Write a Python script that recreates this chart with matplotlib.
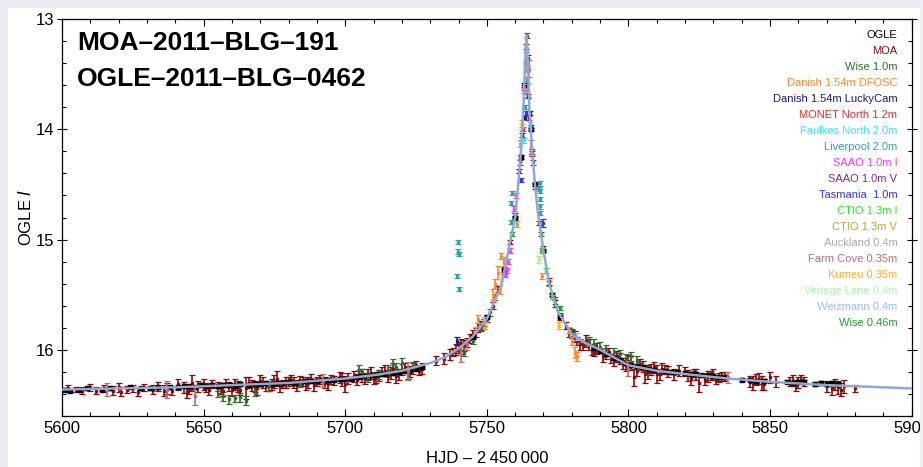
import matplotlib
matplotlib.use("Agg")
import matplotlib.pyplot as plt
from matplotlib.patches import Rectangle
from matplotlib.ticker import MultipleLocator

plt.rcParams["font.family"] = ["Liberation Sans", "DejaVu Sans"]

# model light curve (HJD-2450000, OGLE I)
model_t = [5600, 5620, 5640, 5660, 5680, 5700, 5710, 5720, 5730, 5735, 5740, 5745,
           5750, 5753, 5755, 5758, 5760, 5761, 5762, 5763, 5763.6, 5764.0, 5764.4,
           5765, 5766, 5767, 5768, 5770, 5772, 5775, 5780, 5785, 5790, 5800, 5810,
           5820, 5835, 5850, 5870, 5900]
model_m = [16.36, 16.35, 16.34, 16.32, 16.30, 16.26, 16.23, 16.19, 16.12, 16.07, 15.99, 15.88,
           15.72, 15.54, 15.43, 15.05, 14.80, 14.52, 14.22, 13.75, 13.32, 13.15, 13.30,
           13.80, 14.20, 14.50, 14.75, 15.10, 15.40, 15.65, 15.86, 15.94, 16.00, 16.14, 16.19,
           16.22, 16.26, 16.29, 16.32, 16.35]

ogle_t = [5601, 5603, 5606, 5609, 5614, 5617, 5624, 5628, 5631, 5634, 5638, 5641, 5643,
          5645, 5647, 5649, 5651, 5653, 5655, 5657, 5659, 5661, 5663, 5666, 5668, 5670,
          5672, 5674, 5676, 5678, 5680, 5682, 5684, 5686, 5688, 5690, 5692, 5694, 5696,
          5698, 5699.5, 5702, 5704, 5706, 5708, 5710, 5712, 5714, 5717, 5719, 5721, 5723,
          5725, 5727, 5745, 5750, 5756, 5760, 5762, 5763.3, 5765.5, 5767, 5770, 5773, 5776,
          5788, 5790, 5792, 5795, 5797, 5799, 5801, 5803, 5805, 5807, 5809, 5813, 5815,
          5817, 5820, 5822, 5824, 5826, 5828, 5830, 5832, 5834, 5840, 5843, 5845, 5848,
          5856, 5858, 5860, 5862, 5866, 5868, 5870, 5872, 5874]
ogle_m = [16.36, 16.37, 16.36, 16.35, 16.36, 16.35, 16.34, 16.35, 16.35, 16.34, 16.34, 16.34, 16.33,
          16.33, 16.34, 16.32, 16.33, 16.32, 16.33, 16.32, 16.32, 16.33, 16.31, 16.32, 16.31, 16.31,
          16.30, 16.31, 16.30, 16.30, 16.29, 16.30, 16.29, 16.28, 16.28, 16.28, 16.27, 16.27, 16.27,
          16.26, 16.26, 16.26, 16.25, 16.24, 16.24, 16.23, 16.22, 16.22, 16.21, 16.20, 16.19, 16.18,
          16.17, 16.16, 15.88, 15.70, 15.28, 14.80, 14.25, 13.60, 14.00, 14.50, 15.10, 15.50, 15.70,
          15.98, 16.01, 16.04, 16.07, 16.09, 16.12, 16.14, 16.15, 16.16, 16.17, 16.18, 16.19, 16.20,
          16.20, 16.21, 16.22, 16.22, 16.23, 16.23, 16.24, 16.25, 16.25, 16.27, 16.27, 16.28, 16.28,
          16.29, 16.30, 16.29, 16.29, 16.31, 16.30, 16.31, 16.30, 16.31]
ogle_e = [0.015] * len(ogle_t)

moa_t = [5602, 5605, 5610, 5612, 5620, 5621, 5625, 5629, 5632, 5637, 5639, 5641, 5644, 5646,
         5648, 5651, 5653, 5656, 5658, 5660, 5662, 5665, 5666, 5668, 5670, 5672, 5674, 5676,
         5678, 5680, 5682, 5684, 5686, 5688, 5690, 5693, 5695, 5698, 5700, 5703, 5705, 5707,
         5709, 5711, 5713, 5715, 5717, 5719, 5721, 5723, 5725, 5727, 5732, 5735, 5738, 5740,
         5742, 5744, 5746, 5748, 5750, 5752, 5754, 5756, 5758, 5760, 5761.5, 5762.5, 5763.2,
         5763.8, 5764.5, 5765.2, 5766, 5767, 5768.5, 5770, 5772, 5774, 5776, 5778, 5780, 5782,
         5784, 5786, 5788, 5792, 5794, 5796, 5798, 5800, 5802, 5804, 5806, 5808, 5810, 5812,
         5814, 5818, 5821, 5823, 5825, 5828, 5830, 5832, 5834, 5843, 5845, 5847, 5850, 5852,
         5858, 5860, 5862, 5870, 5872, 5874, 5876, 5880,
         5607, 5615, 5618, 5623, 5627, 5634, 5636, 5643, 5645, 5650, 5652, 5655, 5657, 5659,
         5661, 5663, 5667, 5669, 5671, 5673, 5675, 5677, 5679, 5681, 5683, 5685, 5687, 5689,
         5691, 5694, 5696, 5699, 5701, 5704, 5706, 5708, 5710, 5712, 5714, 5716, 5718, 5720,
         5722, 5724, 5726, 5737, 5739, 5741, 5743, 5745, 5747, 5749, 5779, 5781, 5783, 5785,
         5787, 5789, 5791, 5793, 5795, 5797, 5799, 5801, 5803, 5805, 5807, 5809, 5811, 5813,
         5816, 5820, 5822, 5824, 5827, 5829, 5831, 5833, 5844, 5846, 5848, 5857, 5859, 5861,
         5873, 5875]
moa_m = [16.35, 16.36, 16.34, 16.37, 16.34, 16.38, 16.35, 16.34, 16.36, 16.35, 16.37, 16.31, 16.38, 16.30,
         16.33, 16.34, 16.31, 16.35, 16.30, 16.36, 16.33, 16.35, 16.30, 16.33, 16.28, 16.33, 16.31, 16.26,
         16.31, 16.29, 16.30, 16.28, 16.31, 16.26, 16.29, 16.30, 16.27, 16.25, 16.31, 16.24, 16.22, 16.26,
         16.21, 16.25, 16.20, 16.24, 16.17, 16.22, 16.16, 16.20, 16.14, 16.17, 16.10, 16.08, 16.02, 15.98,
         15.96, 15.90, 15.84, 15.78, 15.72, 15.60, 15.45, 15.28, 15.02, 14.78, 14.38, 14.05, 13.60,
         13.25, 13.35, 13.85, 14.22, 14.52, 14.85, 15.08, 15.38, 15.58, 15.70, 15.78, 15.85, 15.92,
         15.96, 15.95, 16.02, 16.03, 16.08, 16.06, 16.12, 16.10, 16.25, 16.13, 16.22, 16.18, 16.22, 16.17,
         16.20, 16.19, 16.23, 16.21, 16.30, 16.24, 16.22, 16.25, 16.24, 16.29, 16.27, 16.30, 16.25, 16.29,
         16.28, 16.30, 16.29, 16.33, 16.35, 16.34, 16.33, 16.35,
         16.37, 16.35, 16.37, 16.36, 16.38, 16.33, 16.37, 16.34, 16.36, 16.31, 16.36, 16.33, 16.37, 16.33,
         16.31, 16.36, 16.32, 16.35, 16.30, 16.33, 16.29, 16.33, 16.30, 16.27, 16.32, 16.29, 16.30, 16.32,
         16.27, 16.31, 16.28, 16.27, 16.26, 16.27, 16.23, 16.22, 16.26, 16.23, 16.19, 16.21, 16.24, 16.18,
         16.21, 16.17, 16.19, 16.04, 16.00, 15.95, 15.93, 15.86, 15.80, 15.75, 15.84, 15.88, 15.95, 15.92,
         16.00, 15.99, 16.06, 16.02, 16.10, 16.08, 16.14, 16.12, 16.19, 16.15, 16.20, 16.16, 16.22, 16.18,
         16.22, 16.20, 16.26, 16.22, 16.27, 16.23, 16.27, 16.24, 16.30, 16.26, 16.31, 16.29, 16.32, 16.27,
         16.31, 16.36]
moa_e = [0.03, 0.02, 0.03, 0.03, 0.04, 0.04, 0.03, 0.03, 0.04, 0.05, 0.04, 0.05, 0.06, 0.07,
         0.05, 0.04, 0.04, 0.05, 0.04, 0.06, 0.05, 0.10, 0.05, 0.05, 0.05, 0.04, 0.05, 0.07,
         0.04, 0.04, 0.05, 0.04, 0.05, 0.04, 0.04, 0.05, 0.04, 0.05, 0.07, 0.05, 0.04, 0.05,
         0.05, 0.05, 0.04, 0.05, 0.05, 0.05, 0.04, 0.05, 0.04, 0.05, 0.04, 0.05, 0.04, 0.05,
         0.05, 0.04, 0.04, 0.04, 0.03, 0.03, 0.03, 0.03, 0.02, 0.02, 0.02, 0.02, 0.02,
         0.02, 0.02, 0.02, 0.02, 0.02, 0.02, 0.02, 0.03, 0.03, 0.03, 0.03, 0.04, 0.04,
         0.04, 0.05, 0.04, 0.05, 0.04, 0.05, 0.05, 0.05, 0.08, 0.05, 0.08, 0.05, 0.08, 0.05,
         0.05, 0.05, 0.05, 0.04, 0.08, 0.05, 0.05, 0.04, 0.04, 0.05, 0.05, 0.06, 0.05, 0.05,
         0.05, 0.05, 0.04, 0.05, 0.06, 0.06, 0.06, 0.03,
         0.03, 0.03, 0.04, 0.03, 0.04, 0.04, 0.05, 0.05, 0.04, 0.05, 0.05, 0.04, 0.05, 0.04,
         0.05, 0.05, 0.05, 0.06, 0.05, 0.04, 0.06, 0.05, 0.05, 0.04, 0.05, 0.04, 0.05, 0.05,
         0.04, 0.05, 0.04, 0.06, 0.05, 0.05, 0.06, 0.05, 0.05, 0.05, 0.05, 0.05, 0.06, 0.05,
         0.05, 0.05, 0.04, 0.05, 0.05, 0.05, 0.04, 0.04, 0.04, 0.03, 0.04, 0.05, 0.05, 0.05,
         0.05, 0.05, 0.05, 0.04, 0.05, 0.05, 0.05, 0.06, 0.05, 0.05, 0.06, 0.05, 0.05, 0.04,
         0.05, 0.04, 0.06, 0.05, 0.05, 0.04, 0.04, 0.04, 0.06, 0.05, 0.05, 0.04, 0.05, 0.04,
         0.05, 0.06]

wise1_t = [5655, 5657, 5659, 5661, 5663, 5665, 5668, 5673, 5684, 5705, 5706, 5708, 5712, 5715,
           5717, 5718, 5720, 5722, 5724, 5742, 5745, 5748, 5751, 5753, 5756, 5760, 5763, 5764,
           5766, 5769, 5774, 5780, 5786, 5788, 5790, 5792, 5795, 5797, 5799, 5801, 5803]
wise1_m = [16.40, 16.42, 16.45, 16.44, 16.43, 16.46, 16.38, 16.33, 16.31, 16.18, 16.20, 16.25, 16.22, 16.18,
           16.13, 16.16, 16.12, 16.22, 16.15, 16.03, 15.92, 15.80, 15.66, 15.52, 15.30, 14.78, 13.62, 13.15,
           14.20, 14.95, 15.55, 15.85, 15.92, 15.95, 15.97, 15.99, 16.02, 16.04, 16.08, 16.06, 16.10]
wise1_e = [0.03, 0.04, 0.04, 0.03, 0.04, 0.04, 0.04, 0.04, 0.03, 0.04, 0.03, 0.04, 0.04, 0.04,
           0.05, 0.04, 0.05, 0.04, 0.04, 0.03, 0.03, 0.03, 0.03, 0.03, 0.03, 0.02, 0.02, 0.02,
           0.02, 0.02, 0.03, 0.03, 0.04, 0.05, 0.04, 0.03, 0.04, 0.04, 0.04, 0.04, 0.04]

dfosc_t = [5746, 5747, 5749.5, 5752, 5753, 5754, 5754.5, 5755, 5756, 5768.5, 5769.5, 5779, 5780, 5781, 5782]
dfosc_m = [15.82, 15.72, 15.78, 15.50, 15.40, 15.30, 15.45, 15.15, 15.20, 15.18, 15.33, 15.82, 15.92, 16.02, 16.06]
dfosc_e = [0.03, 0.04, 0.03, 0.05, 0.04, 0.06, 0.04, 0.03, 0.04, 0.03, 0.03, 0.03, 0.04, 0.05, 0.04]

lucky_t = [5739.5, 5763.5, 5764.5]
lucky_m = [15.92, 13.90, 13.70]
lucky_e = [0.04, 0.02, 0.02]

monet_t = [5762.8, 5763.9, 5764.3]
monet_m = [14.00, 13.40, 13.45]
monet_e = [0.02, 0.02, 0.02]

faulkes_t = [5763.0, 5765.4]
faulkes_m = [14.10, 13.95]
faulkes_e = [0.02, 0.02]

liver_t = [5739.7, 5739.9, 5740.2, 5739.6, 5740.0, 5758.8, 5758.5, 5758.7, 5768.7, 5768.3,
           5768.8, 5768.6, 5768.7, 5768.6, 5763.5, 5764.3]
liver_m = [15.02, 15.11, 15.13, 15.33, 15.45, 14.58, 14.67, 14.84, 14.49, 14.54,
           14.56, 14.63, 14.70, 14.76, 13.80, 13.55]
liver_e = [0.02] * len(liver_t)

saaoi_t = [5756.5, 5757, 5757.5, 5758, 5759.5, 5760.2, 5763.2]
saaoi_m = [15.32, 15.28, 15.20, 15.10, 14.72, 14.60, 13.65]
saaoi_e = [0.02, 0.02, 0.02, 0.02, 0.02, 0.02, 0.02]

saaov_t = [5761.7, 5765.0, 5766.2]
saaov_m = [14.30, 13.90, 14.30]
saaov_e = [0.02, 0.02, 0.02]

tasm_t = [5762.0, 5763.8, 5765.6, 5769.8]
tasm_m = [14.46, 13.85, 13.98, 14.85]
tasm_e = [0.02, 0.02, 0.02, 0.04]

ctioi_t = [5769.3, 5771.0, 5773.0]
ctioi_m = [15.10, 15.28, 15.52]
ctioi_e = [0.02, 0.02, 0.02]

ctiov_t = [5760.5, 5762.5]
ctiov_m = [14.86, 13.95]
ctiov_e = [0.03, 0.03]

auck_t = [5761.6, 5764.2]
auck_m = [14.13, 13.45]
auck_e = [0.03, 0.03]

farm_t = [5616, 5637, 5647, 5692, 5722, 5741, 5743, 5763.8, 5764.6, 5764.8, 5765.6, 5800, 5835]
farm_m = [16.36, 16.36, 16.42, 16.28, 16.19, 16.04, 15.95, 13.35, 13.65, 13.45, 14.16, 16.17, 16.25]
farm_e = [0.06, 0.08, 0.08, 0.06, 0.08, 0.07, 0.05, 0.05, 0.06, 0.08, 0.06, 0.07, 0.05]

kumeu_t = [5762.3, 5775.5]
kumeu_m = [13.98, 15.78]
kumeu_e = [0.03, 0.03]

vintage_t = [5755.0, 5768.4]
vintage_m = [15.35, 15.18]
vintage_e = [0.03, 0.03]

weiz_t = [5749.0, 5782.0]
weiz_m = [15.73, 15.88]
weiz_e = [0.03, 0.03]

wise46_t = [5759.0, 5772.0, 5776.0]
wise46_m = [14.95, 15.40, 15.62]
wise46_e = [0.02, 0.02, 0.02]

labels = ["OGLE", "MOA", "Wise 1.0m", "Danish 1.54m DFOSC", "Danish 1.54m LuckyCam",
          "MONET North 1.2m", "Faulkes North 2.0m", "Liverpool 2.0m", "SAAO 1.0m I",
          "SAAO 1.0m V", "Tasmania  1.0m", "CTIO 1.3m I", "CTIO 1.3m V", "Auckland 0.4m",
          "Farm Cove 0.35m", "Kumeu 0.35m", "Vintage Lane 0.4m", "Weizmann 0.4m", "Wise 0.46m"]
colors = ["#000000", "#8b0a0a", "#2f6f2f", "#ff8a2a", "#1a1a80", "#e03030", "#33e6ff",
          "#2aa6a6", "#ff33ff", "#862a86", "#3333ff", "#22ee22", "#b8a82a", "#aaaaaa",
          "#b87070", "#ffb020", "#b0f0b0", "#99bbff", "#22a022"]
series = [(ogle_t, ogle_m, ogle_e), (moa_t, moa_m, moa_e), (wise1_t, wise1_m, wise1_e),
          (dfosc_t, dfosc_m, dfosc_e), (lucky_t, lucky_m, lucky_e), (monet_t, monet_m, monet_e),
          (faulkes_t, faulkes_m, faulkes_e), (liver_t, liver_m, liver_e), (saaoi_t, saaoi_m, saaoi_e),
          (saaov_t, saaov_m, saaov_e), (tasm_t, tasm_m, tasm_e), (ctioi_t, ctioi_m, ctioi_e),
          (ctiov_t, ctiov_m, ctiov_e), (auck_t, auck_m, auck_e), (farm_t, farm_m, farm_e),
          (kumeu_t, kumeu_m, kumeu_e), (vintage_t, vintage_m, vintage_e), (weiz_t, weiz_m, weiz_e),
          (wise46_t, wise46_m, wise46_e)]

fig = plt.figure(figsize=(9.23, 4.67), dpi=100, facecolor="#eaecf4")
fig.patches.append(Rectangle((8 / 923, 0), 912 / 923, 459 / 467, transform=fig.transFigure,
                             facecolor="white", edgecolor="none", zorder=-10))
# slide edge on the right cuts the last tick label
fig.patches.append(Rectangle((920 / 923, 0), 3 / 923, 1, transform=fig.transFigure,
                             facecolor="#eeeff2", edgecolor="none", zorder=10))
ax = fig.add_axes([62 / 923, 51 / 467, 849.7 / 923, 397 / 467])
ax.set_facecolor("white")

# draw MOA and OGLE first so the small telescopes sit on top
order = [1, 0] + list(range(2, len(series)))
for i in order:
    t, m, e = series[i]
    if i == 0:
        ax.errorbar(t, m, yerr=e, fmt="s", color=colors[i], ms=3.2, elinewidth=1.4,
                    capsize=2.0, capthick=1.0, zorder=3)
    else:
        ax.errorbar(t, m, yerr=e, fmt="s", color=colors[i], ms=2.0, elinewidth=1.2,
                    capsize=2.0, capthick=0.9, zorder=3 if i < 3 else 4)

ax.plot(model_t, model_m, color="#8ea9d2", lw=1.8, zorder=5)

ax.set_xlim(5600, 5900)
ax.set_ylim(16.6, 13.0)
ax.xaxis.set_major_locator(MultipleLocator(50))
ax.xaxis.set_minor_locator(MultipleLocator(10))
ax.yaxis.set_major_locator(MultipleLocator(1))
ax.yaxis.set_minor_locator(MultipleLocator(0.2))
ax.tick_params(which="both", direction="in", top=True, right=True, labelsize=12, width=0.8)
ax.tick_params(which="major", length=5, pad=3.5)
ax.tick_params(which="minor", length=3)
ax.tick_params(axis="y", which="major", direction="inout", length=7, pad=2)
for s in ax.spines.values():
    s.set_linewidth(0.9)

ax.set_xlabel("HJD \u2013 2\u2009450\u2009000", fontsize=12, labelpad=11)
ax.set_ylabel("OGLE $\\it{I}$", fontsize=12, labelpad=1)

ax.text(15 / 849.7, 1 - 24 / 397, "MOA\u20132011\u2013BLG\u2013191", transform=ax.transAxes,
        fontsize=19, fontweight="bold", va="center", ha="left")
ax.text(15 / 849.7, 1 - 60 / 397, "OGLE\u20132011\u2013BLG\u20130462", transform=ax.transAxes,
        fontsize=19, fontweight="bold", va="center", ha="left")

for k, (lab, col) in enumerate(zip(labels, colors)):
    ax.text(1 - 14.4 / 849.7, 1 - (16 + 16.0 * k) / 397, lab, transform=ax.transAxes,
            fontsize=8, color=col, ha="right", va="center")

fig.savefig("out.png", dpi=100, facecolor=fig.get_facecolor())
